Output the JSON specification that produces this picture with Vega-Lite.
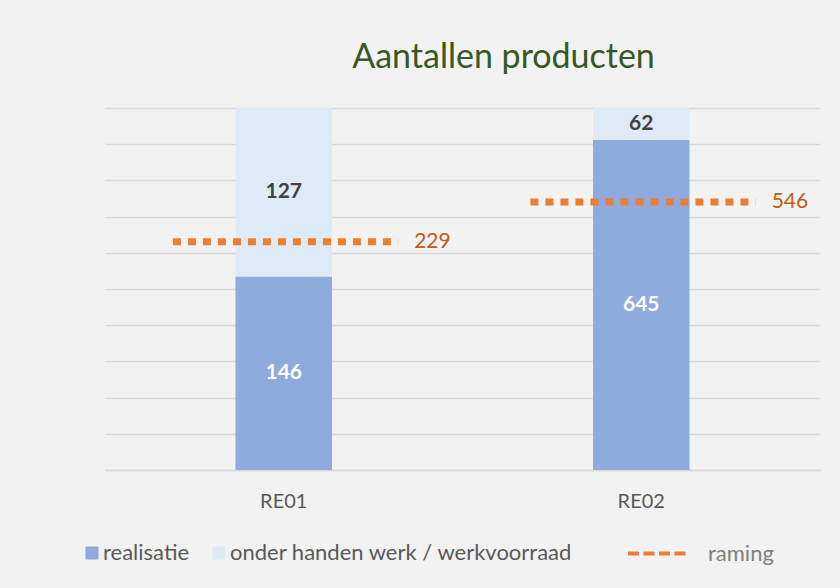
{
  "$schema": "https://vega.github.io/schema/vega-lite/v6.json",
  "width": 715,
  "height": 362,
  "autosize": {"type": "none"},
  "padding": {"left": 105, "top": 108, "right": 20, "bottom": 118},
  "background": "#F2F2F2",
  "config": {"view": {"stroke": null}, "font": "Lato"},
  "title": {
    "text": "Aantallen producten",
    "fontSize": 34,
    "font": "Lato",
    "fontWeight": "normal",
    "color": "#385723",
    "anchor": "middle",
    "dx": 41,
    "offset": 6,
    "baseline": "alphabetic"
  },
  "datasets": {
    "bars": [
      {"cat": "RE01", "series": "realisatie", "seg": 1, "value": 146},
      {"cat": "RE01", "series": "onder handen werk / werkvoorraad", "seg": 2, "value": 127},
      {"cat": "RE02", "series": "realisatie", "seg": 1, "value": 645},
      {"cat": "RE02", "series": "onder handen werk / werkvoorraad", "seg": 2, "value": 62}
    ],
    "raming": [
      {"cat": "RE01", "series": "raming", "value": 229},
      {"cat": "RE02", "series": "raming", "value": 546}
    ]
  },
  "layer": [
    {
      "data": {"name": "bars"},
      "encoding": {
        "x": {
          "field": "cat",
          "type": "nominal",
          "title": null,
          "scale": {"paddingInner": 0, "paddingOuter": 0},
          "axis": {
            "labelAngle": 0,
            "labelFontSize": 20,
            "labelFont": "Lato",
            "labelColor": "#595959",
            "ticks": false,
            "labelPadding": 21,
            "domainColor": "#D9D9D9",
            "domainWidth": 1.5
          }
        },
        "order": {"field": "seg", "type": "quantitative"}
      },
      "layer": [
        {
          "mark": {"type": "bar", "width": {"band": 0.27}},
          "encoding": {
            "y": {
              "field": "value",
              "type": "quantitative",
              "stack": "normalize",
              "title": null,
              "axis": {"labels": false, "ticks": false, "domain": false, "grid": true, "tickCount": 10, "gridColor": "#D9D9D9", "gridWidth": 1.5}
            },
            "color": {
              "field": "series",
              "type": "nominal",
              "scale": {"domain": ["realisatie", "onder handen werk / werkvoorraad"], "range": ["#8FAADC", "#DEEBF7"]},
              "legend": {
                "orient": "none",
                "legendX": -24,
                "legendY": 434,
                "direction": "horizontal",
                "title": null,
                "symbolType": "square",
                "symbolSize": 169,
                "symbolStrokeWidth": 0,
                "labelFontSize": 22,
                "labelFont": "Lato",
                "labelColor": "#595959",
                "labelOffset": 0,
                "labelLimit": 500,
                "columnPadding": 18,
                "padding": 0
              }
            }
          }
        },
        {
          "mark": {"type": "text", "fontSize": 21, "fontWeight": "bold", "font": "Lato", "baseline": "middle"},
          "encoding": {
            "y": {
              "field": "value",
              "type": "quantitative",
              "stack": "normalize",
              "bandPosition": 0.5,
              "title": null,
              "axis": {"labels": false, "ticks": false, "domain": false, "grid": true, "tickCount": 10, "gridColor": "#D9D9D9", "gridWidth": 1.5}
            },
            "text": {"field": "value", "type": "quantitative"},
            "color": {"condition": {"test": "datum.series === 'realisatie'", "value": "#FFFFFF"}, "value": "#404040"}
          }
        }
      ]
    },
    {
      "data": {"name": "raming"},
      "encoding": {
        "y": {"field": "value", "type": "quantitative", "scale": {"domain": [-1600, 1300]}, "axis": null}
      },
      "layer": [
        {
          "mark": {"type": "rule", "strokeWidth": 7, "strokeDash": [8, 7], "strokeCap": "butt"},
          "encoding": {
            "x": {"field": "cat", "type": "nominal", "bandPosition": 0.19},
            "x2": {"field": "cat", "bandPosition": 0.82},
            "stroke": {
              "field": "series",
              "type": "nominal",
              "scale": {"domain": ["raming"], "range": ["#ED7D31"]},
              "legend": {
                "orient": "none",
                "legendX": 521,
                "legendY": 414,
                "title": null,
                "symbolType": "stroke",
                "symbolSize": 3481,
                "symbolStrokeWidth": 4,
                "symbolDash": [11, 4.5],
                "labelFontSize": 22,
                "labelFont": "Lato",
                "labelColor": "#7F7F7F",
                "labelOffset": 19,
                "padding": 0
              }
            }
          }
        },
        {
          "mark": {"type": "text", "align": "left", "baseline": "middle", "dx": 16, "fontSize": 21, "font": "Lato", "color": "#C55A11"},
          "encoding": {
            "x": {"field": "cat", "type": "nominal", "bandPosition": 0.82},
            "text": {"field": "value", "type": "quantitative"}
          }
        }
      ]
    }
  ],
  "resolve": {"scale": {"y": "independent"}}
}
